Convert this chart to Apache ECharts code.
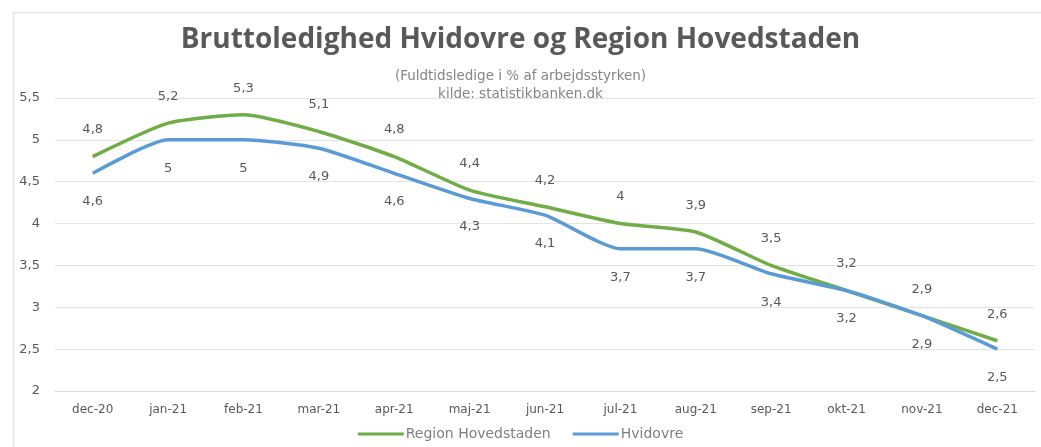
<!DOCTYPE html>
<html><head><meta charset="utf-8">
<script src="https://cdn.jsdelivr.net/npm/echarts@6/dist/echarts.min.js"></script>
<style>html,body{margin:0;padding:0;background:#fff}#c{width:1041px;height:447px}</style>
</head><body><div id="c"></div>
<script>
const categories = ['dec-20','jan-21','feb-21','mar-21','apr-21','maj-21','jun-21','jul-21','aug-21','sep-21','okt-21','nov-21','dec-21'];
const regionValues = [4.8, 5.2, 5.3, 5.1, 4.8, 4.4, 4.2, 4.0, 3.9, 3.5, 3.2, 2.9, 2.6];
const hvidovreValues = [4.6, 5.0, 5.0, 4.9, 4.6, 4.3, 4.1, 3.7, 3.7, 3.4, 3.2, 2.9, 2.5];
const fmt = v => String(v).replace('.', ',');
const F = 'DejaVu Sans, Open Sans, sans-serif';
const chart = echarts.init(document.getElementById('c'));
chart.setOption({
  backgroundColor: '#fff',
  textStyle: {fontFamily: F},
  graphic: [{
    type: 'rect', left: 11, top: 10, silent: true, z: -1,
    shape: {width: 1040, height: 446},
    style: {fill: 'none', stroke: '#e6e6e6', lineWidth: 1.5}
  }],
  title: [{
    text: 'Bruttoledighed Hvidovre og Region Hovedstaden',
    left: 'center', top: 21,
    textStyle: {fontSize: 28, fontWeight: 'bold', color: '#595959', fontFamily: 'Open Sans, sans-serif'}
  }, {
    text: '(Fuldtidsledige i % af arbejdsstyrken)\nkilde: statistikbanken.dk',
    left: 'center', top: 62,
    textStyle: {fontSize: 13.5, fontWeight: 'normal', color: '#858585', lineHeight: 18, fontFamily: F}
  }],
  legend: {
    bottom: 1, left: 'center', itemWidth: 46, itemHeight: 3, itemGap: 22,
    icon: 'rect',
    textStyle: {fontSize: 14, color: '#7f7f7f', fontFamily: F, padding: [0, 0, 0, -3]},
    data: ['Region Hovedstaden', 'Hvidovre']
  },
  grid: {left: 55, right: 6, top: 98, bottom: 56},
  xAxis: {
    type: 'category', data: categories, boundaryGap: true,
    axisLine: {show: true, lineStyle: {color: '#d9d9d9'}},
    axisTick: {show: false},
    axisLabel: {color: '#595959', fontSize: 12, margin: 13, fontFamily: F}
  },
  yAxis: {
    type: 'value', min: 2, max: 5.5, interval: 0.5,
    axisLine: {show: false}, axisTick: {show: false},
    splitLine: {lineStyle: {color: '#e3e3e3'}},
    axisLabel: {color: '#595959', fontSize: 13, margin: 15, formatter: fmt, fontFamily: F}
  },
  series: [{
    name: 'Region Hovedstaden', type: 'line', data: regionValues, smooth: 0.2,
    symbol: 'circle', symbolSize: 0.01, showSymbol: true,
    lineStyle: {width: 3.5, color: '#70ad47'}, itemStyle: {color: '#70ad47'},
    label: {show: true, position: 'top', distance: 20, color: '#595959', fontSize: 13, fontFamily: F, formatter: p => fmt(p.value)}
  }, {
    name: 'Hvidovre', type: 'line', data: hvidovreValues, smooth: 0.2,
    symbol: 'circle', symbolSize: 0.01, showSymbol: true,
    lineStyle: {width: 3.5, color: '#5b9bd5'}, itemStyle: {color: '#5b9bd5'},
    label: {show: true, position: 'bottom', distance: 22, color: '#595959', fontSize: 13, fontFamily: F, formatter: p => fmt(p.value)}
  }]
});
</script></body></html>
